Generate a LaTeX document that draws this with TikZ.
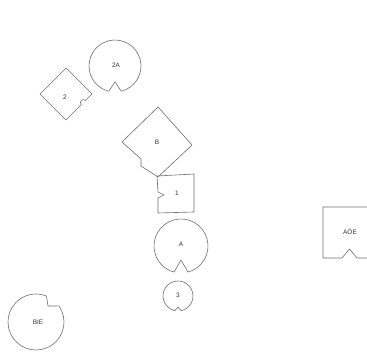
\documentclass[tikz,border=0pt]{standalone}
\usepackage{fontspec}
\setmainfont{Liberation Sans}
\usepackage{xcolor}
\definecolor{outline}{RGB}{110, 110, 110}
\usepackage{tikz}
\usetikzlibrary{calc}
\newcommand{\notchcircle}[5]{%
  \draw[shape line] ($(#1)+(#3+#4:#2)$) arc[start angle=#3+#4, end angle=#3-#4+360, radius=#2]
    -- ($(#1)+(#3:#2-#5)$) -- cycle;}

\begin{document}
\begin{tikzpicture}[
  x=1pt, y=1pt,
  shape line/.style={draw=outline, line width=0.6pt, line join=round},
  tag/.style={font=\fontsize{6.5}{7}\selectfont, text=black!80, inner sep=0pt}
]
\useasboundingbox (0,0) rectangle (367,351);

\coordinate (c2A) at (115,285);
\coordinate (cA) at (181,105);
\coordinate (c3) at (178,55);
\coordinate (cBIE) at (36,29);

\notchcircle{c2A}{26}{270}{14}{10}
\notchcircle{cA}{27}{270}{15}{13}
\notchcircle{c3}{15}{270}{12}{4}

\draw[shape line] ($(cBIE)+(68:28)$) -- (48,45) -- ($(cBIE)+(35:28)$)
  arc[start angle=35, end angle=-292, radius=28];

\draw[shape line] (66,283) -- (92,257) -- (85.5,250.5)
  arc[start angle=45, end angle=225, radius=3] -- (66,231) -- (40,257) -- cycle;

\draw[shape line] (158,244) -- (192,206) -- (158,174) -- (141,185) -- (141,192)
  -- (122,209) -- cycle;

\draw[shape line] (157,175) -- (194,177) -- (194,139) -- (158,138) -- (158,153)
  -- (164,156) -- (158,159) -- cycle;

\draw[shape line] (367,144) -- (323,144) -- (323,93) -- (342,93) -- (349.5,102)
  -- (357,93) -- (367,93);

\node[tag] (l2A) at (116,286) {2A};
\node[tag] (l2) at (65,254) {2};
\node[tag] (lB) at (157,209) {B};
\node[tag] (l1) at (177,158) {1};
\node[tag] (lA) at (181,107) {A};
\node[tag] (l3) at (178,56) {3};
\node[tag] (lBIE) at (38,29) {BIE};
\node[tag] (lAOE) at (350,119) {AÖE};
\end{tikzpicture}
\end{document}
